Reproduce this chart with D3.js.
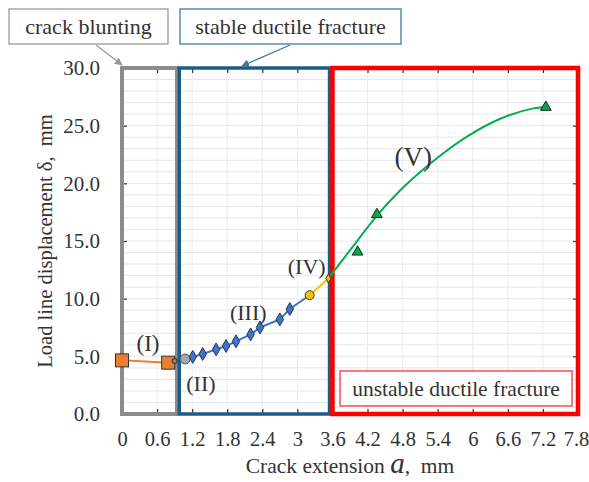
<!DOCTYPE html>
<html>
<head>
<meta charset="utf-8">
<script src="https://cdn.jsdelivr.net/npm/d3@7"></script>
<style>
  body { margin: 0; background: #fff; }
  text { font-family: "Liberation Serif", "Times New Roman", "DejaVu Serif", serif; fill: #333; }
</style>
</head>
<body>
<svg width="589" height="482"></svg>
<script>
// data
const xTicks = [0, 0.6, 1.2, 1.8, 2.4, 3, 3.6, 4.2, 4.8, 5.4, 6, 6.6, 7.2, 7.8];
const yTicks = [0, 5, 10, 15, 20, 25, 30];

const stage1 = [[0, 4.65], [0.79, 4.45]];
const stage2 = [[1.08, 4.77]];
const stage3 = [[1.21, 4.95], [1.38, 5.2], [1.61, 5.6], [1.78, 5.9], [1.95, 6.3],
                [2.2, 6.9], [2.36, 7.5], [2.7, 8.2], [2.87, 9.1]];
const stage4 = [[3.21, 10.3], [3.53, 11.75]];
const stage5 = [[4.03, 14.05], [4.36, 17.3], [7.25, 26.6]];
const fitCurve = [[3.53, 11.75], [3.78, 13.4], [4.03, 15.05], [4.36, 17.2], [4.76, 19.4],
                  [5.27, 21.7], [5.9, 24.05], [6.47, 25.6], [7.04, 26.5], [7.25, 26.65]];

const zones = [
  { x0: 0, x1: 0.94, color: '#8c8c8c', w: 4 },
  { x0: 0.98, x1: 3.55, color: '#1d5c87', w: 3.5 },
  { x0: 3.6, x1: 7.8, color: '#ff0000', w: 4.5 }
];

const stageLabels = [
  { t: '(I)', x: 0.445, y: 5.45, size: 23 },
  { t: '(II)', x: 1.35, y: 2.0, size: 22 },
  { t: '(III)', x: 2.16, y: 8.15, size: 22 },
  { t: '(IV)', x: 3.16, y: 12.1, size: 22 },
  { t: '(V)', x: 4.98, y: 21.5, size: 27 }
];

const svg = d3.select('svg');

const x = d3.scaleLinear().domain([0, 7.8]).range([122, 578]);
const y = d3.scaleLinear().domain([0, 30]).range([414, 68]);

// grid
svg.append('g').selectAll('line')
  .data(d3.range(1, 30))
  .enter().append('line')
  .attr('x1', x(0)).attr('x2', x(7.8))
  .attr('y1', d => y(d)).attr('y2', d => y(d))
  .attr('stroke', '#e6e6e6').attr('stroke-width', 1);

svg.append('g').selectAll('line')
  .data(xTicks.slice(1, -1))
  .enter().append('line')
  .attr('x1', d => x(d)).attr('x2', d => x(d))
  .attr('y1', y(0)).attr('y2', y(30))
  .attr('stroke', '#ececec').attr('stroke-width', 1);

// axes (inward ticks, mirrored)
const axB = svg.append('g').attr('transform', `translate(0,${y(0)})`)
  .call(d3.axisBottom(x).tickValues(xTicks).tickSize(-5).tickPadding(17).tickFormat(d3.format('')));
const axT = svg.append('g').attr('transform', `translate(0,${y(30)})`)
  .call(d3.axisTop(x).tickValues(xTicks).tickSize(-5).tickFormat(''));
const axL = svg.append('g').attr('transform', `translate(${x(0)},0)`)
  .call(d3.axisLeft(y).tickValues(yTicks).tickSize(-5).tickPadding(22).tickFormat(d3.format('.1f')));
const axR = svg.append('g').attr('transform', `translate(${x(7.8)},0)`)
  .call(d3.axisRight(y).tickValues(yTicks).tickSize(-5).tickFormat(''));

[axB, axT, axL, axR].forEach(a => {
  a.select('.domain').remove();
  a.selectAll('line').attr('stroke', '#333').attr('stroke-width', 1.2);
  a.selectAll('text').attr('font-size', 21).attr('fill', '#333');
});
axB.selectAll('text').attr('font-size', 20.5);
// last label sits against the page edge, as in the original
axB.selectAll('.tick').filter(d => d === 7.8).select('text').attr('x', -2);

// zone boxes
svg.append('g').selectAll('rect')
  .data(zones)
  .enter().append('rect')
  .attr('x', d => x(d.x0)).attr('y', y(30))
  .attr('width', d => x(d.x1) - x(d.x0)).attr('height', y(0) - y(30))
  .attr('fill', 'none')
  .attr('stroke', d => d.color).attr('stroke-width', d => d.w);

// lines
const line = d3.line().x(d => x(d[0])).y(d => y(d[1]));
svg.append('path').datum(stage1).attr('d', line)
  .attr('fill', 'none').attr('stroke', '#ed7d31').attr('stroke-width', 2);
svg.append('path').datum(stage2.concat(stage3, [stage4[0]])).attr('d', line)
  .attr('fill', 'none').attr('stroke', '#4472c4').attr('stroke-width', 2);
svg.append('path').datum(stage4).attr('d', line)
  .attr('fill', 'none').attr('stroke', '#ffc000').attr('stroke-width', 2);
svg.append('path').datum(fitCurve).attr('d', line.curve(d3.curveMonotoneX))
  .attr('fill', 'none').attr('stroke', '#00b050').attr('stroke-width', 2);

// markers
svg.append('g').selectAll('rect')
  .data(stage1).enter().append('rect')
  .attr('x', d => x(d[0]) - 6.5).attr('y', d => y(d[1]) - 6.5)
  .attr('width', 13).attr('height', 13)
  .attr('fill', '#ed7d31').attr('stroke', '#333').attr('stroke-width', 1);
svg.append('circle')
  .attr('cx', x(0.9)).attr('cy', y(4.6)).attr('r', 2.5)
  .attr('fill', '#888').attr('stroke', '#222');
svg.append('g').selectAll('circle')
  .data(stage2).enter().append('circle')
  .attr('cx', d => x(d[0])).attr('cy', d => y(d[1])).attr('r', 5)
  .attr('fill', '#a6a6a6').attr('stroke', '#555').attr('stroke-width', 1);
svg.append('g').selectAll('path')
  .data(stage3).enter().append('path')
  .attr('d', d3.symbol(d3.symbolDiamond, 48))
  .attr('transform', d => `translate(${x(d[0])},${y(d[1])})`)
  .attr('fill', '#4472c4').attr('stroke', '#203864').attr('stroke-width', 1);
svg.append('circle')
  .attr('cx', x(stage4[0][0])).attr('cy', y(stage4[0][1])).attr('r', 4.5)
  .attr('fill', '#ffc000').attr('stroke', '#333').attr('stroke-width', 1);
svg.append('path')
  .attr('d', d3.symbol(d3.symbolDiamond, 22))
  .attr('transform', `translate(${x(stage4[1][0])},${y(stage4[1][1])})`)
  .attr('fill', '#ffc000').attr('stroke', '#333').attr('stroke-width', 1);
svg.append('g').selectAll('path')
  .data(stage5).enter().append('path')
  .attr('d', d3.symbol(d3.symbolTriangle, 50))
  .attr('transform', d => `translate(${x(d[0])},${y(d[1])})`)
  .attr('fill', '#00a850').attr('stroke', '#222').attr('stroke-width', 1);

// stage labels
svg.append('g').selectAll('text')
  .data(stageLabels).enter().append('text')
  .attr('x', d => x(d.x)).attr('y', d => y(d.y))
  .attr('text-anchor', 'middle')
  .attr('font-size', d => d.size)
  .text(d => d.t);

// callout boxes
function callout(x0, y0, w, h, label, stroke, size) {
  svg.append('rect').attr('x', x0).attr('y', y0).attr('width', w).attr('height', h)
    .attr('fill', '#fff').attr('stroke', stroke).attr('stroke-width', 1.3);
  svg.append('text').attr('x', x0 + w / 2).attr('y', y0 + h / 2 + 7)
    .attr('text-anchor', 'middle').attr('font-size', size).text(label);
}
callout(9, 9, 159, 35, 'crack blunting', '#999', 22);
callout(180, 9, 221, 35, 'stable ductile fracture', '#3a7ca5', 22);
callout(340, 371, 232, 35, 'unstable ductile fracture', '#ff3030', 21.5);

// arrows
const defs = svg.append('defs');
function marker(id, color) {
  defs.append('marker').attr('id', id).attr('viewBox', '0 0 10 10')
    .attr('refX', 9).attr('refY', 5).attr('markerWidth', 6).attr('markerHeight', 6)
    .attr('orient', 'auto')
    .append('path').attr('d', 'M0,0L10,5L0,10z').attr('fill', color);
}
marker('ag', '#999');
marker('ab', '#3a7ca5');
svg.append('line').attr('x1', 96).attr('y1', 45).attr('x2', 122).attr('y2', 65)
  .attr('stroke', '#999').attr('stroke-width', 1.3).attr('marker-end', 'url(#ag)');
svg.append('line').attr('x1', 290).attr('y1', 45).attr('x2', 242).attr('y2', 66)
  .attr('stroke', '#3a7ca5').attr('stroke-width', 1.3).attr('marker-end', 'url(#ab)');

// axis titles
svg.append('text')
  .attr('transform', `translate(52,${(y(0) + y(30)) / 2}) rotate(-90)`)
  .attr('text-anchor', 'middle').attr('font-size', 20.5)
  .text('Load line displacement δ,\u00a0\u00a0mm');

const xt = svg.append('text').attr('x', 350).attr('y', 473)
  .attr('text-anchor', 'middle').attr('font-size', 21.5);
xt.append('tspan').text('Crack extension ');
xt.append('tspan').attr('font-style', 'italic').attr('font-size', 29).text('a');
xt.append('tspan').text(',\u00a0\u00a0mm');
</script>
</body>
</html>
